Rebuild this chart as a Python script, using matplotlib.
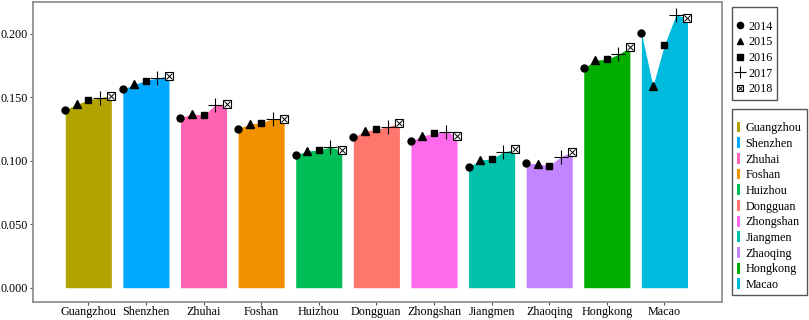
import numpy as np
import matplotlib.pyplot as plt
from matplotlib.lines import Line2D
from matplotlib.patches import Patch, Rectangle
from matplotlib.legend_handler import HandlerTuple

plt.rcParams['font.family'] = ['Liberation Serif', 'DejaVu Serif']

# cities along the x axis
cities = ['Guangzhou', 'Shenzhen', 'Zhuhai', 'Foshan', 'Huizhou', 'Dongguan',
          'Zhongshan', 'Jiangmen', 'Zhaoqing', 'Hongkong', 'Macao']
years = ['2014', '2015', '2016', '2017', '2018']

# values per city, 2014..2018
v2014 = [0.140, 0.156, 0.1335, 0.125, 0.1044, 0.1183, 0.1152, 0.0947, 0.0979, 0.1726, 0.2006]
v2015 = [0.1443, 0.160, 0.137, 0.129, 0.1075, 0.1233, 0.1194, 0.1005, 0.0975, 0.179, 0.1587]
v2016 = [0.1477, 0.163, 0.1356, 0.1296, 0.1083, 0.1246, 0.1215, 0.1013, 0.096, 0.1797, 0.191]
v2017 = [0.1495, 0.165, 0.1437, 0.133, 0.1107, 0.1267, 0.1228, 0.1065, 0.103, 0.1836, 0.2146]
v2018 = [0.151, 0.1666, 0.1448, 0.133, 0.108, 0.1293, 0.1196, 0.109, 0.107, 0.189, 0.2124]

colors = ['#B3A300', '#00A9FF', '#FF64B4', '#F39000', '#00BE55', '#FF766D',
          '#FF6AEC', '#00C2AA', '#C284FF', '#00AE00', '#00BADE']

vals = np.array([v2014, v2015, v2016, v2017, v2018])
offs = np.array([-0.4, -0.2, 0.0, 0.2, 0.4])

fig = plt.figure(figsize=(8.09, 3.2), dpi=100)
ax = fig.add_axes([0.0408, 0.0572, 0.8517, 0.9366])

for i, c in enumerate(cities):
    xs = i + 1 + offs
    ax.fill_between(xs, 0, vals[:, i], color=colors[i], lw=0)

xa = np.arange(1, len(cities) + 1)
ms = 5
ax.plot(xa - 0.4, v2014, 'o', color='black', ms=ms, ls='none')
ax.plot(xa - 0.2, v2015, '^', color='black', ms=ms + 1, ls='none')
ax.plot(xa, v2016, 's', color='black', ms=ms, ls='none')
ax.plot(xa + 0.2, v2017, '+', color='black', ms=10, mew=0.8, ls='none')
ax.plot(xa + 0.4, v2018, 's', mfc='white', mec='black', ms=ms + 1, mew=0.8, ls='none')
ax.plot(xa + 0.4, v2018, 'x', color='black', ms=ms - 1, mew=0.7, ls='none')

ax.set_xlim(0.04, 12.0)
ax.set_ylim(-0.011, 0.2248)
ax.set_xticks(xa)
ax.set_xticklabels(cities)
ax.set_yticks([0, 0.05, 0.1, 0.15, 0.2])
ax.set_yticklabels(['0.000', '0.050', '0.100', '0.150', '0.200'])
ax.tick_params(labelsize=8.7, length=2.5, color='#555555', labelcolor='black', pad=1)
ax.tick_params(axis='x', pad=0.5)
for s in ax.spines.values():
    s.set_color('#888888')
    s.set_linewidth(1.2)

W, H = 809, 320

# legend frames drawn by hand
fig.patches.append(Rectangle((731.7 / W, 1 - 100 / H), 45 / W, 92.7 / H,
                             transform=fig.transFigure, fill=False,
                             ec='#555555', lw=1.0))
fig.patches.append(Rectangle((731.7 / W, 1 - 295 / H), 75 / W, 186 / H,
                             transform=fig.transFigure, fill=False,
                             ec='#555555', lw=1.0))

# year legend
h_year = [
    Line2D([], [], marker='o', color='black', ls='none', ms=4.5),
    Line2D([], [], marker='^', color='black', ls='none', ms=5),
    Line2D([], [], marker='s', color='black', ls='none', ms=4.5),
    Line2D([], [], marker='+', color='black', ls='none', ms=8, mew=0.8),
    (Line2D([], [], marker='s', mfc='white', mec='black', ls='none', ms=5, mew=0.8),
     Line2D([], [], marker='x', color='black', ls='none', ms=3.5, mew=0.7)),
]
fig.legend(h_year, years, loc='upper left', bbox_to_anchor=(735.8 / W, 1 - 20.7 / H),
           fontsize=8.7, frameon=False,
           handlelength=0.7, handletextpad=0.35, labelspacing=0.3,
           borderpad=0, borderaxespad=0,
           handler_map={tuple: HandlerTuple(ndivide=1, pad=0)})

# city legend
h_city = [Patch(facecolor=col, edgecolor='none') for col in colors]
fig.legend(h_city, cities, loc='upper left', bbox_to_anchor=(736.7 / W, 1 - 121.6 / H),
           fontsize=8.7, frameon=False,
           handlelength=0.28, handleheight=1.0, handletextpad=0.45,
           labelspacing=0.26, borderpad=0, borderaxespad=0)

fig.savefig('out.png', dpi=100)
